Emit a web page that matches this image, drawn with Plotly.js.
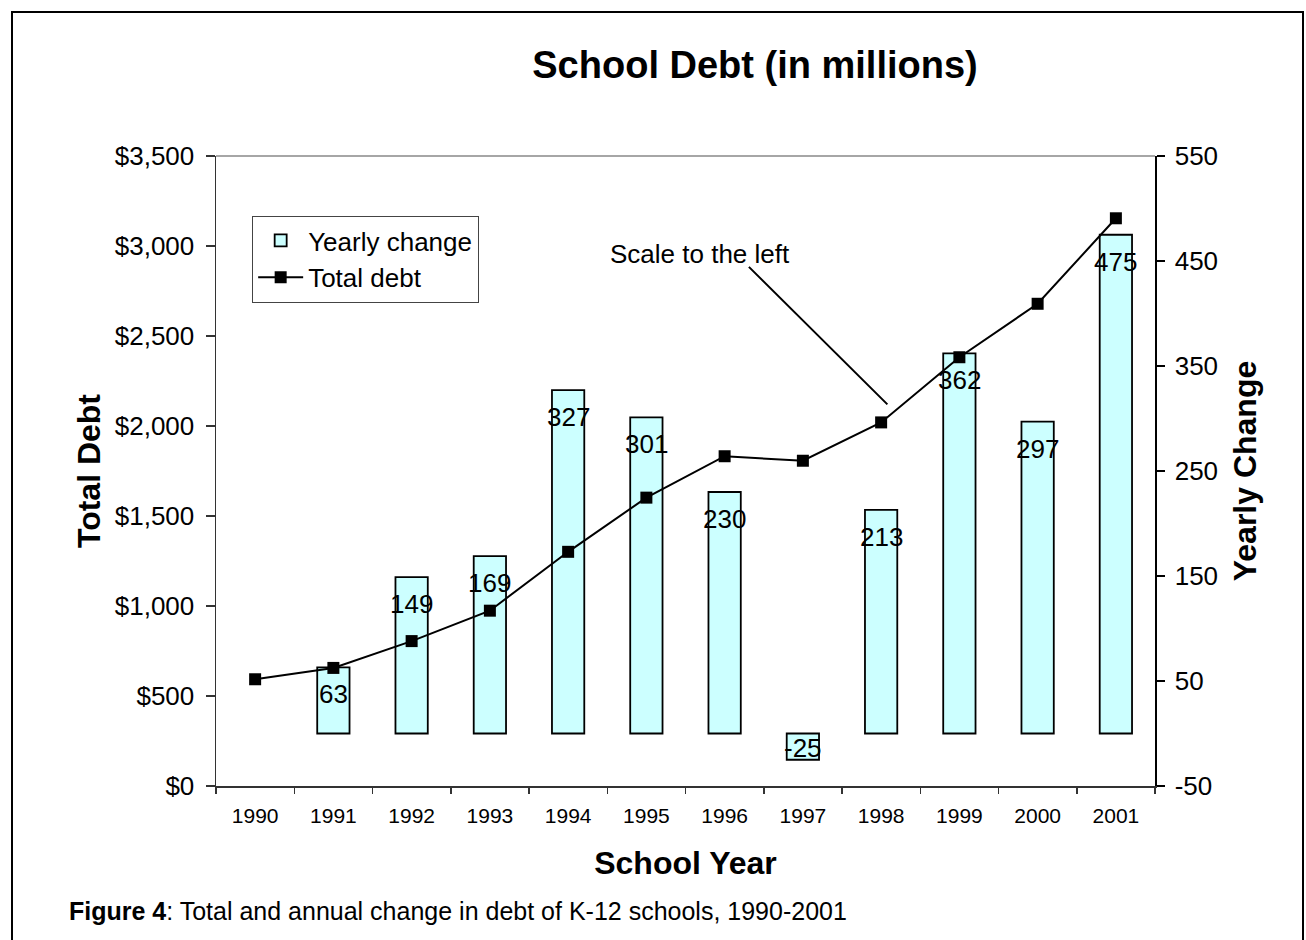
<!DOCTYPE html>
<html>
<head>
<meta charset="utf-8">
<script src="https://cdn.plot.ly/plotly-3.0.1.min.js"></script>
<style>
  html, body { margin: 0; padding: 0; background: #fff; overflow: hidden; }
  #wrap { position: relative; width: 1306px; height: 940px; }
  #chart { width: 1306px; height: 940px; }
  #frame { position: absolute; left: 11px; top: 11px; width: 1289px; height: 960px;
           border: 2.5px solid #000; border-bottom: none; pointer-events: none; }
</style>
</head>
<body>
<div id="wrap">
  <div id="chart"></div>
  <div id="frame"></div>
</div>
<script>
// ---- data ----
const years = ['1990','1991','1992','1993','1994','1995','1996','1997','1998','1999','2000','2001'];
const yearlyChange = [null, 63, 149, 169, 327, 301, 230, -25, 213, 362, 297, 475];
const totalDebt = [593, 656, 805, 974, 1301, 1602, 1832, 1807, 2020, 2382, 2679, 3154];
const rightTickVals = [-50, 50, 150, 250, 350, 450, 550];
const rightTickText = ['-50', '50', '150', '250', '350', '450', '550'];
const seriesNames = ['Yearly change', 'Total debt'];
const chartTitle = 'School Debt (in millions)';
const xTitle = 'School Year';
const leftTitle = 'Total Debt';
const rightTitle = 'Yearly Change';
const noteText = 'Scale to the left';
const captionText = '<b>Figure 4</b>: Total and annual change in debt of K-12 schools, 1990-2001';

const FONT = '"Liberation Sans", Arial, sans-serif';

const bars = {
  type: 'bar',
  name: seriesNames[0],
  x: years,
  y: yearlyChange,
  yaxis: 'y',
  marker: { color: '#CCFFFF', line: { color: '#000', width: 1.8 } },
  hoverinfo: 'skip'
};

const line = {
  type: 'scatter',
  mode: 'lines+markers',
  name: seriesNames[1],
  x: years,
  y: totalDebt,
  yaxis: 'y2',
  line: { color: '#000', width: 2 },
  marker: { symbol: 'square', size: 12, color: '#000' },
  hoverinfo: 'skip'
};

// data labels for bars (x given as category serial index)
const labelAnns = [];
yearlyChange.forEach((v, i) => {
  if (v === null) return;
  labelAnns.push({
    x: i, y: v, xref: 'x', yref: 'y',
    text: String(v), showarrow: false,
    yshift: v >= 0 ? -27 : 12,
    xanchor: 'center', yanchor: 'middle',
    font: { family: FONT, size: 26, color: '#000' }
  });
});

const annotations = labelAnns.concat([
  {
    text: noteText, xref: 'paper', yref: 'paper', x: 0.5158, y: 0.845,
    xanchor: 'center', yanchor: 'middle', showarrow: false,
    font: { family: FONT, size: 26, color: '#000' }
  },
  {
    text: '', xref: 'x', yref: 'y2', x: 8.08, y: 2120,
    showarrow: true, arrowhead: 0, arrowwidth: 2, arrowcolor: '#000',
    ax: -140, ay: -139, axref: 'pixel', ayref: 'pixel', standoff: 0, startstandoff: 0
  },
  {
    text: captionText, xref: 'paper', yref: 'paper', x: -0.1587, y: -0.198,
    xanchor: 'left', yanchor: 'middle', showarrow: false,
    font: { family: FONT, size: 25, color: '#000' }
  }
]);

const layout = {
  width: 1306, height: 940,
  margin: { l: 216, r: 151, t: 155.5, b: 154, pad: 0 },
  paper_bgcolor: '#fff', plot_bgcolor: '#fff',
  font: { family: FONT, color: '#000' },
  showlegend: true,
  title: {
    text: '<b>' + chartTitle + '</b>',
    font: { family: FONT, size: 38, color: '#000' },
    xref: 'container', yref: 'container',
    x: 755 / 1306, xanchor: 'center',
    y: 1 - 65 / 940, yanchor: 'middle'
  },
  bargap: 0.587,
  xaxis: {
    type: 'category', range: [-0.5, 11.5],
    tickson: 'boundaries', ticks: 'outside', ticklen: 6, tickwidth: 1.5, tickcolor: '#333',
    showline: true, linecolor: '#333', linewidth: 1.5,
    showgrid: false, zeroline: false,
    tickfont: { family: FONT, size: 21, color: '#000' },
    ticklabelstandoff: 10,
    title: { text: '<b>' + xTitle + '</b>', font: { family: FONT, size: 32, color: '#000' }, standoff: 26 },
    fixedrange: true
  },
  yaxis: {
    side: 'right',
    range: [-50, 550], tickmode: 'array', tickvals: rightTickVals, ticktext: rightTickText,
    ticks: 'outside', ticklen: 8, tickwidth: 1.5, tickcolor: '#000',
    showline: true, linecolor: '#000', linewidth: 1.5,
    showgrid: false, zeroline: false,
    tickfont: { family: FONT, size: 26, color: '#000' },
    ticklabelstandoff: 5,
    title: { text: '<b>' + rightTitle + '</b>', font: { family: FONT, size: 32, color: '#000' }, standoff: 16 },
    fixedrange: true
  },
  yaxis2: {
    overlaying: 'y', side: 'left', anchor: 'x',
    range: [0, 3500], dtick: 500, tickprefix: '$', tickformat: ',d',
    ticks: 'outside', ticklen: 9, tickwidth: 1.5, tickcolor: '#333',
    showline: true, linecolor: '#333', linewidth: 1.5,
    showgrid: false, zeroline: false,
    tickfont: { family: FONT, size: 26, color: '#000' },
    ticklabelstandoff: 6,
    title: { text: '<b>' + leftTitle + '</b>', font: { family: FONT, size: 32, color: '#000' }, standoff: 4 },
    fixedrange: true
  },
  legend: {
    x: 0.0383, y: 0.905, xanchor: 'left', yanchor: 'top',
    bgcolor: '#fff', bordercolor: '#444', borderwidth: 1.2,
    font: { family: FONT, size: 26, color: '#000' },
    itemwidth: 45, tracegroupgap: 0, traceorder: 'normal'
  },
  shapes: [
    { type: 'line', xref: 'paper', yref: 'paper', x0: 0, x1: 1, y0: 1, y1: 1,
      line: { color: '#888', width: 1.5 } }
  ],
  annotations: annotations
};

Plotly.newPlot('chart', [bars, line], layout, { staticPlot: true, displayModeBar: false });
</script>
</body>
</html>
